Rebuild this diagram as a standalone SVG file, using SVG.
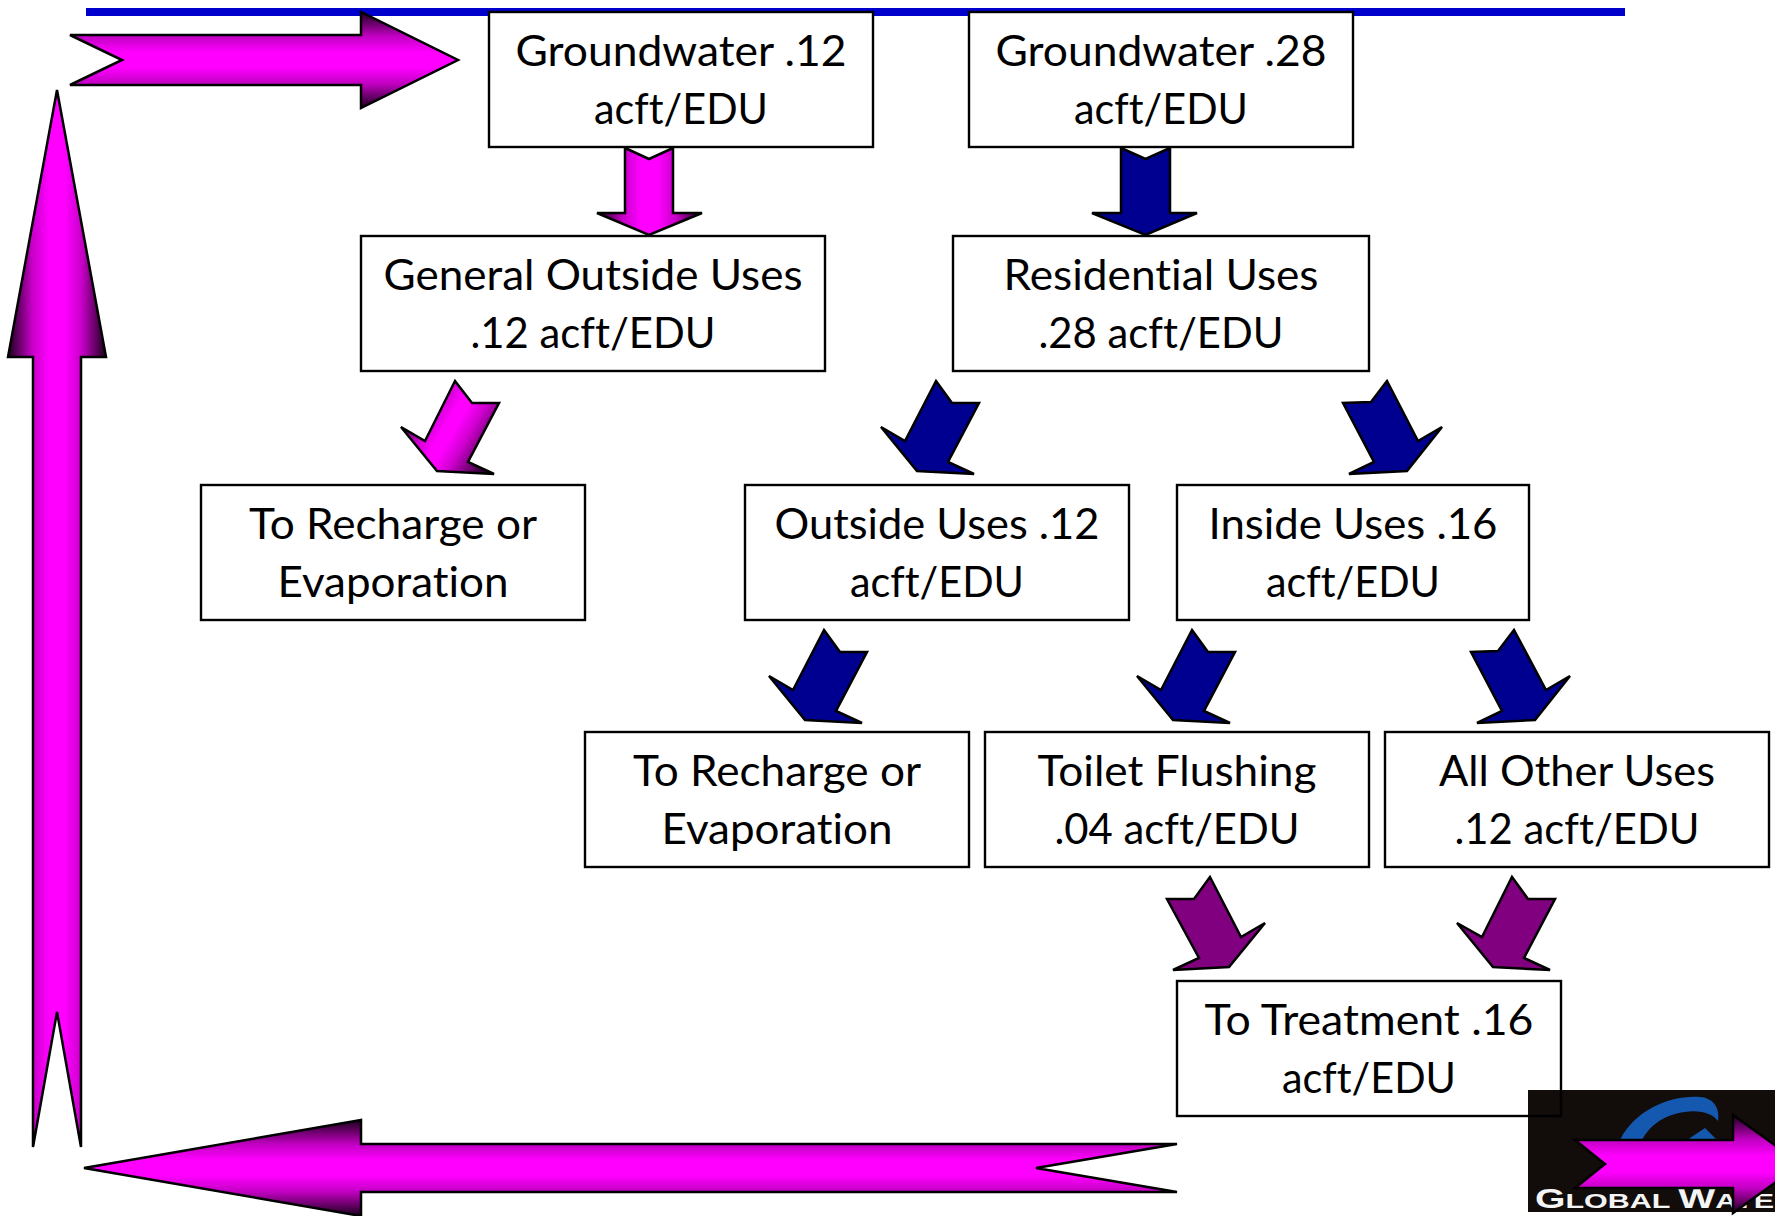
<svg xmlns="http://www.w3.org/2000/svg" xmlns:xlink="http://www.w3.org/1999/xlink" width="1775" height="1216" viewBox="0 0 1775 1216">
<style>
.box{fill:#fff;stroke:#000;stroke-width:2.4}
.t{font-family:Lato,"Liberation Sans",sans-serif;font-size:43px;fill:#000;text-anchor:middle;font-variant-ligatures:none}
.a{stroke:#000;stroke-width:2.5;stroke-linejoin:miter}
.blue{fill:#000090}.purple{fill:#800080}
.mv{fill:url(#gv)}.mh{fill:url(#gh)}.md1{fill:url(#gd1)}
</style>
<defs>
<linearGradient id="gv" x1="0" y1="0" x2="0" y2="1"><stop offset="0" stop-color="#1a001a"/><stop offset=".25" stop-color="#c000c0"/><stop offset=".42" stop-color="#f0f"/><stop offset=".58" stop-color="#f0f"/><stop offset=".75" stop-color="#c000c0"/><stop offset="1" stop-color="#1a001a"/></linearGradient>
<linearGradient id="gh" x1="0" y1="0" x2="1" y2="0"><stop offset="0" stop-color="#1a001a"/><stop offset=".25" stop-color="#c800c8"/><stop offset=".42" stop-color="#f0f"/><stop offset=".58" stop-color="#f0f"/><stop offset=".75" stop-color="#c800c8"/><stop offset="1" stop-color="#1a001a"/></linearGradient>
<linearGradient id="gd1" x1="0.05" y1="0.25" x2="0.95" y2="0.75"><stop offset="0" stop-color="#300030"/><stop offset=".3" stop-color="#d000d0"/><stop offset=".45" stop-color="#f0f"/><stop offset=".55" stop-color="#f0f"/><stop offset=".7" stop-color="#d000d0"/><stop offset="1" stop-color="#300030"/></linearGradient>
</defs>
<rect width="1775" height="1216" fill="#fff"/>
<rect id="top-rule" x="86" y="8" width="1539" height="8" fill="#0000cc"/>
<g id="logo">
<rect x="1528" y="1090" width="247" height="122" fill="#120c0a"/>
<path d="M1620,1140C1635,1110 1670,1095 1700,1097C1715,1098 1720,1110 1718,1121C1712,1112 1695,1108 1675,1114C1660,1118 1648,1128 1642,1140Z" fill="#1558b0"/>
<path d="M1687,1140L1705,1128L1717,1140Z" fill="#1558b0"/>
<text x="1535" y="1208" font-family="'Liberation Sans',sans-serif" font-weight="bold" font-size="27" fill="#f4f4f4" textLength="239" lengthAdjust="spacingAndGlyphs">G<tspan font-size="21">LOBAL </tspan>W<tspan font-size="21">ATE</tspan></text>
</g>
<g id="n1"><rect class="box" x="489" y="12" width="384" height="135"/><text class="t" x="681" y="66" textLength="331" lengthAdjust="spacingAndGlyphs">Groundwater .12</text><text class="t" x="681" y="124" textLength="174" lengthAdjust="spacingAndGlyphs">acft/EDU</text></g>
<g id="n2"><rect class="box" x="969" y="12" width="384" height="135"/><text class="t" x="1161" y="66" textLength="331" lengthAdjust="spacingAndGlyphs">Groundwater .28</text><text class="t" x="1161" y="124" textLength="174" lengthAdjust="spacingAndGlyphs">acft/EDU</text></g>
<g id="n3"><rect class="box" x="361" y="236" width="464" height="135"/><text class="t" x="593" y="290" textLength="419" lengthAdjust="spacingAndGlyphs">General Outside Uses</text><text class="t" x="593" y="348" textLength="245" lengthAdjust="spacingAndGlyphs">.12 acft/EDU</text></g>
<g id="n4"><rect class="box" x="953" y="236" width="416" height="135"/><text class="t" x="1161" y="290" textLength="315" lengthAdjust="spacingAndGlyphs">Residential Uses</text><text class="t" x="1161" y="348" textLength="245" lengthAdjust="spacingAndGlyphs">.28 acft/EDU</text></g>
<g id="n5"><rect class="box" x="201" y="485" width="384" height="135"/><text class="t" x="393" y="539" textLength="288" lengthAdjust="spacingAndGlyphs">To Recharge or</text><text class="t" x="393" y="597" textLength="231" lengthAdjust="spacingAndGlyphs">Evaporation</text></g>
<g id="n6"><rect class="box" x="745" y="485" width="384" height="135"/><text class="t" x="937" y="539" textLength="325" lengthAdjust="spacingAndGlyphs">Outside Uses .12</text><text class="t" x="937" y="597" textLength="174" lengthAdjust="spacingAndGlyphs">acft/EDU</text></g>
<g id="n7"><rect class="box" x="1177" y="485" width="352" height="135"/><text class="t" x="1353" y="539" textLength="289" lengthAdjust="spacingAndGlyphs">Inside Uses .16</text><text class="t" x="1353" y="597" textLength="174" lengthAdjust="spacingAndGlyphs">acft/EDU</text></g>
<g id="n8"><rect class="box" x="585" y="732" width="384" height="135"/><text class="t" x="777" y="786" textLength="288" lengthAdjust="spacingAndGlyphs">To Recharge or</text><text class="t" x="777" y="844" textLength="231" lengthAdjust="spacingAndGlyphs">Evaporation</text></g>
<g id="n9"><rect class="box" x="985" y="732" width="384" height="135"/><text class="t" x="1177" y="786" textLength="279" lengthAdjust="spacingAndGlyphs">Toilet Flushing</text><text class="t" x="1177" y="844" textLength="245" lengthAdjust="spacingAndGlyphs">.04 acft/EDU</text></g>
<g id="n10"><rect class="box" x="1385" y="732" width="384" height="135"/><text class="t" x="1577" y="786" textLength="276" lengthAdjust="spacingAndGlyphs">All Other Uses</text><text class="t" x="1577" y="844" textLength="245" lengthAdjust="spacingAndGlyphs">.12 acft/EDU</text></g>
<g id="n11"><rect class="box" style="fill:none" x="1177" y="981" width="384" height="135"/><text class="t" x="1369" y="1035" textLength="329" lengthAdjust="spacingAndGlyphs">To Treatment .16</text><text class="t" x="1369" y="1093" textLength="174" lengthAdjust="spacingAndGlyphs">acft/EDU</text></g>
<g id="connectors">
<polygon class="a mv" points="70,35 122,60 70,85 361,85 361,108 458,60 361,12 361,35"/>
<polygon class="a mh" points="57,90 8,357 33,357 33,1147 57,1012 81,1147 81,357 106,357"/>
<polygon class="a mv" points="84,1168 361,1120 361,1144 1177,1144 1036,1168 1177,1192 361,1192 361,1216"/>
<polygon class="a mv" points="1575,1140 1605,1164 1575,1188 1733,1188 1733,1213 1801,1164 1733,1115 1733,1140"/>
<polygon class="a mh" points="625,148 649,159 673,148 673,213 702,213 649,235 597,213 625,213"/>
<polygon class="a blue" points="1121,148 1145.5,159 1170,148 1170,213 1197,213 1145.5,235 1092,213 1121,213"/>
<polygon class="a md1" points="455,381 472,403 499,403 468,462 494,474 437,471 401,427 425,441"/>
<polygon class="a blue" points="936,381 952,403 979,403 948,462 974,474 917,471 881,427 905,441"/>
<polygon class="a blue" points="1387,381 1371,402 1343,403 1374,462 1349,474 1407,471 1442,427 1418,441"/>
<polygon class="a blue" points="824,630 840,652 867,652 836,711 862,723 805,720 769,676 793,690"/>
<polygon class="a blue" points="1192,630 1208,652 1235,652 1204,711 1230,723 1173,720 1137,676 1161,690"/>
<polygon class="a blue" points="1514,630 1498,651 1471,652 1502,711 1477,723 1535,720 1570,676 1546,690"/>
<polygon class="a purple" points="1210,877 1194,899 1167,899 1199,958 1173,970 1229,967 1265,923 1241,937"/>
<polygon class="a purple" points="1512,877 1528,899 1555,899 1524,958 1550,970 1493,967 1457,923 1482,937"/>
</g>
</svg>
